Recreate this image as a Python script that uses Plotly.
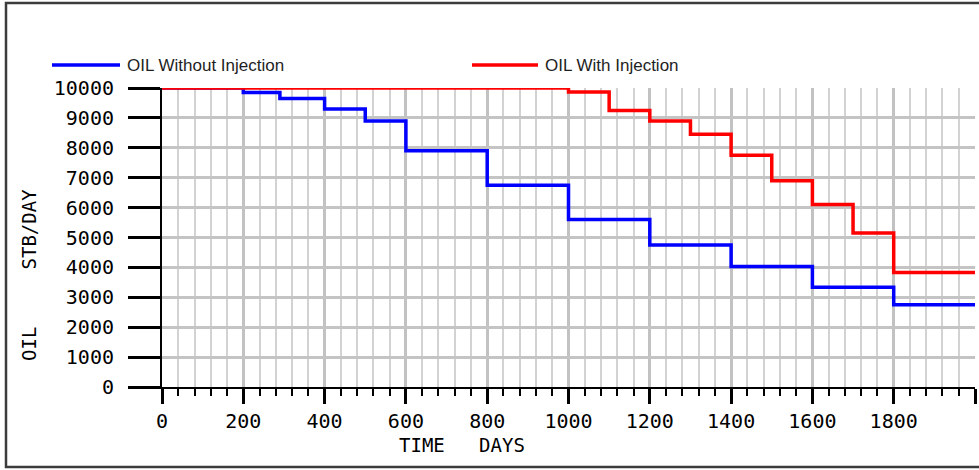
import plotly.graph_objects as go

# ---- data ----
days_without = [0, 200, 290, 400, 500, 600, 800, 1000, 1200, 1400, 1600, 1800, 2000]
oil_without = [10000, 9850, 9650, 9300, 8900, 7900, 6750, 5600, 4750, 4030, 3340, 2750, 2750]
days_with = [0, 1000, 1100, 1200, 1300, 1400, 1500, 1600, 1700, 1800, 2000]
oil_with = [10000, 9870, 9250, 8900, 8450, 7750, 6900, 6100, 5150, 3830, 3830]

x_tickvals = [0, 200, 400, 600, 800, 1000, 1200, 1400, 1600, 1800, 2000]
x_ticktext = ["0", "200", "400", "600", "800", "1000", "1200", "1400", "1600", "1800", ""]
y_tickvals = [0, 1000, 2000, 3000, 4000, 5000, 6000, 7000, 8000, 9000, 10000]
y_ticktext = [str(v) for v in y_tickvals]

series_names = ["OIL Without Injection", "OIL With Injection"]
series_colors = ["#0000ff", "#ff0000"]

# ---- layout geometry (pixels) ----
W, H = 979, 470
L, R, T, B = 162, 4, 88, 83
PW = W - L - R
PH = H - T - B


def px_x(px):
    return (px - L) / PW


def px_y(py):
    return (H - B - py) / PH


TICKFONT = dict(family="DejaVu Sans Mono", size=20, color="#000000")
TITLEFONT = dict(family="DejaVu Sans Mono", size=19, color="#000000")

fig = go.Figure()
fig.add_trace(go.Scatter(x=days_without, y=oil_without, mode="lines", line_shape="hv",
                         line=dict(color=series_colors[0], width=3.5), name=series_names[0],
                         showlegend=False))
fig.add_trace(go.Scatter(x=days_with, y=oil_with, mode="lines", line_shape="hv",
                         line=dict(color=series_colors[1], width=3.5), name=series_names[1],
                         showlegend=False))

shapes = []
annotations = []
# figure frame
shapes.append(dict(type="rect", xref="paper", yref="paper",
                   x0=px_x(6), x1=px_x(1000), y0=px_y(467), y1=px_y(3),
                   line=dict(color="#3c3c3c", width=2.5), fillcolor="rgba(0,0,0,0)", layer="above"))
# legend samples
legend_pos = [(52, 120, 125), (472, 538, 543)]
for (x0, x1, xt), name, col in zip(legend_pos, series_names, series_colors):
    shapes.append(dict(type="line", xref="paper", yref="paper",
                       x0=px_x(x0), x1=px_x(x1), y0=px_y(65), y1=px_y(65),
                       line=dict(color=col, width=3.5)))
    annotations.append(dict(text=name, xref="paper", yref="paper", x=px_x(xt), y=px_y(65),
                            xanchor="left", yanchor="middle", showarrow=False,
                            font=dict(family="Liberation Sans", size=17, color="#1e1e1e")))

# axis titles
annotations.append(dict(text="TIME\u00a0\u00a0\u00a0DAYS", xref="paper", yref="paper",
                        x=px_x(462), y=px_y(445), xanchor="center", yanchor="middle",
                        showarrow=False, font=TITLEFONT))
annotations.append(dict(text="OIL\u00a0\u00a0\u00a0\u00a0\u00a0STB/DAY", xref="paper", yref="paper",
                        x=px_x(29), y=px_y(275), xanchor="center", yanchor="middle",
                        textangle=-90, showarrow=False, font=TITLEFONT))

fig.update_layout(
    width=W, height=H,
    margin=dict(l=L, r=R, t=T, b=B, pad=0),
    paper_bgcolor="white", plot_bgcolor="white",
    shapes=shapes, annotations=annotations,
    showlegend=False,
)
fig.update_xaxes(
    range=[0, 2000], tickmode="array", tickvals=x_tickvals, ticktext=x_ticktext,
    showgrid=True, gridcolor="#c2c2c2", gridwidth=3,
    showline=True, linecolor="black", linewidth=2,
    ticks="outside", ticklen=15, tickwidth=3, tickcolor="black",
    tickfont=TICKFONT, zeroline=False, ticklabelstandoff=0,
    minor=dict(dtick=40, tick0=0, showgrid=True, gridcolor="#d2d2d2", gridwidth=2,
               ticks="outside", ticklen=7, tickwidth=2, tickcolor="black"),
)
fig.update_yaxes(
    range=[0, 10000], tickmode="array", tickvals=y_tickvals, ticktext=y_ticktext,
    showgrid=True, gridcolor="#c4c4c4", gridwidth=3,
    showline=True, linecolor="black", linewidth=2,
    ticks="outside", ticklen=32, tickwidth=3, tickcolor="black",
    tickfont=TICKFONT, zeroline=False, ticklabelstandoff=10,
)

fig.write_html("out.html", config={"displayModeBar": False},
               post_script="document.body.style.margin='0';")
